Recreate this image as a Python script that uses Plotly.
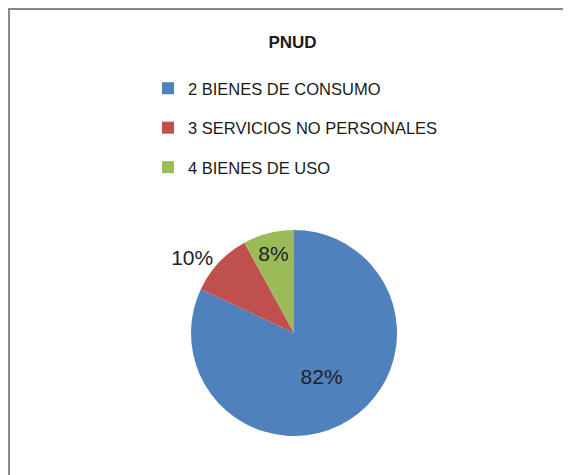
import plotly.graph_objects as go

title = "PNUD"
labels = ["2 BIENES DE CONSUMO", "3 SERVICIOS NO PERSONALES", "4 BIENES DE USO"]
values = [82, 10, 8]
colors = ["#4F81BD", "#C0504D", "#9BBB59"]
text_positions = ["inside", "outside", "inside"]

OFF = 8  # page body margin
W, H = 571 - OFF, 475 - OFF
cx, cy, r = 294 - OFF, 333 - OFF, 103

fig = go.Figure()
fig.add_trace(go.Pie(
    labels=labels, values=values, sort=False, direction="clockwise", rotation=0,
    marker=dict(colors=colors, line=dict(width=0)),
    textinfo="percent", texttemplate="%{percent:.0%}",
    textposition=text_positions,
    insidetextorientation="horizontal",
    textfont=dict(family="Liberation Sans", size=21, color="#222222"),
    domain=dict(x=[(cx - r) / W, (cx + r) / W], y=[(H - cy - r) / H, (H - cy + r) / H]),
    showlegend=False, hoverinfo="label+percent",
))
for lab, col in zip(labels, colors):
    fig.add_trace(go.Scatter(
        x=[None], y=[None], mode="markers", name=lab, legendgroup=lab,
        marker=dict(symbol="square", size=12, color=col),
    ))

border = dict(color="#888888", width=2)
fig.update_layout(
    width=W, height=H,
    margin=dict(l=0, r=0, t=0, b=0),
    paper_bgcolor="white", plot_bgcolor="white",
    xaxis=dict(visible=False), yaxis=dict(visible=False),
    title=dict(text="<b>" + title + "</b>", x=(292.5 - OFF) / W, xanchor="center",
               y=1 - (42 - OFF) / H, yanchor="middle",
               font=dict(family="Liberation Sans", size=17, color="#1a1a1a")),
    legend=dict(x=(148 - OFF) / W, xanchor="left", y=1 - (71 - OFF) / H, yanchor="top",
                traceorder="grouped", tracegroupgap=15,
                font=dict(family="Liberation Sans", size=16.5, color="#1a1a1a"),
                bgcolor="rgba(0,0,0,0)", itemclick=False),
    uniformtext=dict(minsize=21, mode="show"),
    shapes=[
        dict(type="line", xref="paper", yref="paper",
             x0=1 / W, y0=0, x1=1 / W, y1=1 - 1 / H, line=border),
        dict(type="line", xref="paper", yref="paper",
             x0=0, y0=1 - 1 / H, x1=1, y1=1 - 1 / H, line=border),
    ],
)
fig.write_html("out.html")
